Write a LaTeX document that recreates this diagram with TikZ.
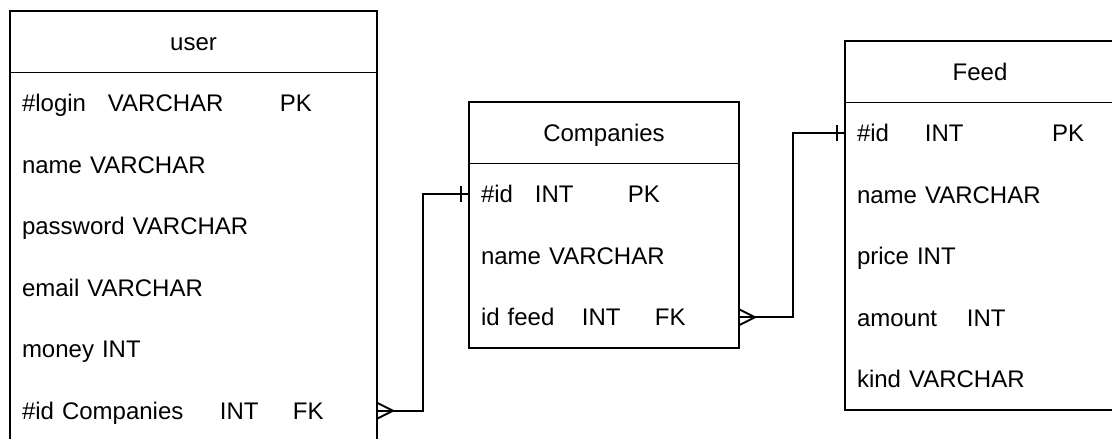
\documentclass[tikz,border=0pt]{standalone}
\usepackage{fontspec}
\setmainfont{Liberation Sans}
\usetikzlibrary{positioning,calc}

% fixed text box so that every row sits at the same height
\newcommand{\rowstrut}{\rule[-6pt]{0pt}{29.2pt}}

\begin{document}
\begin{tikzpicture}[x=1pt, y=-1pt, line width=1.8pt,
    font=\fontsize{24}{29}\selectfont,
    tablehead/.style={draw, minimum width=#1, minimum height=61.5pt, inner sep=0pt, outer sep=0pt, execute at begin node=\rowstrut},
    tablefield/.style={text width=#1, inner xsep=12pt, inner ysep=0pt, minimum height=61.5pt, outer sep=0pt, align=left, execute at begin node=\rowstrut}]
    \useasboundingbox (0,0) rectangle (1112,439);
    \clip (0,0) rectangle (1112,439);

    % user
    \node[tablehead=367pt, anchor=north west] (user) at (10,11) {user};
    \node[tablefield=343pt, below=0pt of user] (ulogin) {\makebox[86pt][l]{\#login}\makebox[172pt][l]{VARCHAR}PK};
    \node[tablefield=343pt, below=0pt of ulogin] (uname) {name VARCHAR};
    \node[tablefield=343pt, below=0pt of uname] (upass) {password VARCHAR};
    \node[tablefield=343pt, below=0pt of upass] (umail) {email VARCHAR};
    \node[tablefield=343pt, below=0pt of umail] (umoney) {money INT};
    \node[tablefield=343pt, below=0pt of umoney] (ucomp) {\makebox[198pt][l]{\#id Companies}\makebox[73pt][l]{INT}FK};
    \draw (user.south west) rectangle (ucomp.south east);

    % Companies
    \node[tablehead=270pt, anchor=north west] (comp) at (469,102) {Companies};
    \node[tablefield=246pt, below=0pt of comp] (cid) {\makebox[54pt][l]{\#id}\makebox[93pt][l]{INT}PK};
    \node[tablefield=246pt, below=0pt of cid] (cname) {name VARCHAR};
    \node[tablefield=246pt, below=0pt of cname] (cfeed) {\makebox[101pt][l]{id feed}\makebox[73pt][l]{INT}FK};
    \draw (comp.south west) rectangle (cfeed.south east);

    % Feed
    \node[tablehead=270pt, anchor=north west] (feed) at (845,41) {Feed};
    \node[tablefield=246pt, below=0pt of feed] (fid) {\makebox[68pt][l]{\#id}\makebox[127pt][l]{INT}PK};
    \node[tablefield=246pt, below=0pt of fid] (fname) {name VARCHAR};
    \node[tablefield=246pt, below=0pt of fname] (fprice) {price INT};
    \node[tablefield=246pt, below=0pt of fprice] (famount) {\makebox[110pt][l]{amount}INT};
    \node[tablefield=246pt, below=0pt of famount] (fkind) {kind VARCHAR};
    \draw (feed.south west) rectangle (fkind.south east);

    % Relations: many on the left end, one on the right end
    \draw (ucomp.east) -- ++(46,0) |- (cid.west);
    \draw ($(ucomp.east)+(0,-8)$) -- ++(16,8) -- ++(-16,8);
    \draw ($(cid.west)+(-8,-8)$) -- ++(0,16);

    \draw (cfeed.east) -- ++(54,0) |- (fid.west);
    \draw ($(cfeed.east)+(0,-8)$) -- ++(16,8) -- ++(-16,8);
    \draw ($(fid.west)+(-8,-8)$) -- ++(0,16);
\end{tikzpicture}
\end{document}
